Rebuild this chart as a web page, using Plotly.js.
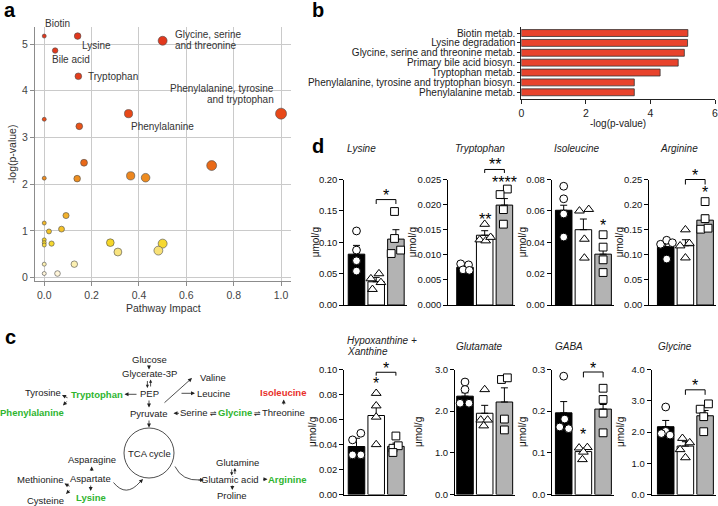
<!DOCTYPE html>
<html><head><meta charset="utf-8">
<script src="https://cdn.plot.ly/plotly-3.0.1.min.js"></script>
<style>html,body{margin:0;padding:0;background:#fff}#chart{width:718px;height:506px}</style>
</head><body><div id="chart"></div>
<script>
// ================= DATA =================
// Panel a: pathway impact vs -log(p)
const pathImpact = [0, 0.141, 0.046, 0.5, 0.144, 0.356, 1.0, 0, 0.148, 0.168, 0, 0.139, 0.365, 0.428, 0.707, 0.092, 0, 0.02, 0.073, 0, 0, 0, 0.031, 0.279, 0.311, 0.5, 0.482, 0, 0.127, 0, 0.056];
const pathLogP   = [5.17, 5.17, 4.86, 5.07, 4.31, 3.51, 3.51, 3.39, 3.24, 2.46, 2.13, 2.12, 2.18, 2.14, 2.40, 1.33, 1.17, 0.99, 1.04, 0.81, 0.75, 0.70, 0.73, 0.75, 0.55, 0.73, 0.58, 0.29, 0.29, 0.09, 0.09];
const pathLabels = ['Biotin','Lysine','Bile acid','Glycine, serine<br>and threonine','Tryptophan','Phenylalanine','Phenylalanine, tyrosine<br>and tryptophan'];
const aXTicks = [0, 0.2, 0.4, 0.6, 0.8, 1.0];
const aYTicks = [0, 1, 2, 3, 4, 5];

// Panel b: enriched pathways
const enrichNames = ['Biotin metab.','Lysine degradation','Glycine, serine and threonine metab.','Primary bile acid biosyn.','Tryptophan metab.','Phenylalanine, tyrosine and tryptophan biosyn.','Phenylalanine metab.'];
const enrichLogP  = [5.16, 5.15, 5.05, 4.86, 4.30, 3.50, 3.50];
const bXTicks = [0, 2, 4, 6];
const bXTickText = ['0', '2', '4', '6'];

// Panel d: metabolite levels (umol/g), groups: black / white / gray
const metaboliteNames = ['Lysine','Tryptophan','Isoleucine','Arginine','Hypoxanthine +<br>Xanthine','Glutamate','GABA','Glycine'];
const lysineMean = [0.081, 0.037, 0.105],   lysineSem = [0.014, 0.007, 0.015];
const lysineA = [0.118, 0.0875, 0.0705, 0.054], lysineB = [0.042, 0.050, 0.036, 0.025], lysineC = [0.149, 0.106, 0.082, 0.0875];
const tryptophanMean = [0.0075, 0.0139, 0.0199], tryptophanSem = [0.0003, 0.0009, 0.0013];
const tryptophanA = [0.0082, 0.0080, 0.0070, 0.0069], tryptophanB = [0.0161, 0.0130, 0.0128, 0.0135], tryptophanC = [0.0231, 0.0220, 0.0190, 0.0161];
const isoleucineMean = [0.0604, 0.048, 0.0324], isoleucineSem = [0.0032, 0.0068, 0.0028];
const isoleucineA = [0.0757, 0.0677, 0.058, 0.0433], isoleucineB = [0.060, 0.061, 0.042, 0.030], isoleucineC = [0.0448, 0.0369, 0.0288, 0.0207];
const arginineMean = [0.116, 0.118, 0.169], arginineSem = [0.006, 0.012, 0.010];
const arginineA = [0.121, 0.129, 0.124, 0.0915], arginineB = [0.150, 0.118, 0.123, 0.094], arginineC = [0.206, 0.172, 0.151, 0.153];
const hypoxMean = [0.0384, 0.0632, 0.0385], hypoxSem = [0.0066, 0.0079, 0.0026];
const hypoxA = [0.0437, 0.049, 0.0317, 0.0317], hypoxB = [0.081, 0.071, 0.062, 0.040], hypoxC = [0.0468, 0.037, 0.039, 0.0336];
const glutamateMean = [2.36, 1.95, 2.22], glutamateSem = [0.08, 0.19, 0.34];
const glutamateA = [2.70, 2.52, 2.19, 2.19], glutamateB = [2.52, 1.79, 1.79, 1.65], glutamateC = [2.76, 2.80, 1.81, 1.55];
const gabaMean = [0.196, 0.103, 0.205], gabaSem = [0.027, 0.008, 0.011];
const gabaA = [0.284, 0.181, 0.162, 0.158], gabaB = [0.112, 0.113, 0.102, 0.084], gabaC = [0.255, 0.228, 0.195, 0.148];
const glycineMean = [2.17, 1.55, 2.52], glycineSem = [0.20, 0.14, 0.17];
const glycineA = [2.80, 2.02, 1.95, 1.90], glycineB = [1.80, 1.66, 1.44, 1.18], glycineC = [2.90, 2.73, 2.49, 2.01];

const dMeans = [lysineMean, tryptophanMean, isoleucineMean, arginineMean, hypoxMean, glutamateMean, gabaMean, glycineMean];
const dSems  = [lysineSem, tryptophanSem, isoleucineSem, arginineSem, hypoxSem, glutamateSem, gabaSem, glycineSem];
const dPtsA  = [lysineA, tryptophanA, isoleucineA, arginineA, hypoxA, glutamateA, gabaA, glycineA];
const dPtsB  = [lysineB, tryptophanB, isoleucineB, arginineB, hypoxB, glutamateB, gabaB, glycineB];
const dPtsC  = [lysineC, tryptophanC, isoleucineC, arginineC, hypoxC, glutamateC, gabaC, glycineC];
const dYMax  = [0.20, 0.025, 0.08, 0.25, 0.10, 3.0, 0.3, 4.0];
const dYStep = [0.05, 0.005, 0.02, 0.05, 0.02, 1.0, 0.1, 1.0];
const dYFmt  = ['.2f', '.3f', '.2f', '.2f', '.2f', '.1f', '.1f', '.1f'];

// ================= STYLE / LAYOUT CONSTANTS =================
// horizontal spread of the dots (jitter), in bar-width units
const jitA = [[0,0,0,0],[-0.22,0.18,-0.1,0.22],[0,0,0,0],[-0.26,0.05,0.34,0.05],[-0.2,0.22,-0.2,0.22],[0,0,-0.25,0.2],[0,0.05,-0.2,0.25],[0,0,-0.22,0.22]];
const jitB = [[-0.27,0.14,0.24,-0.19],[0,-0.25,0.05,0.3],[-0.2,0.27,0.05,0.05],[0,-0.27,0.2,0],[0,0,0,0],[0,-0.2,0.15,-0.05],[-0.22,0.2,0,-0.05],[-0.15,0.22,-0.27,0]];
const jitC = [[-0.07,-0.07,-0.24,0.24],[0.15,-0.22,-0.05,-0.05],[0,0,0,0],[0,0,-0.22,0.15],[0,-0.15,0.12,-0.15],[-0.15,0.15,0,0],[0,0,0,0],[0.17,-0.25,-0.07,-0.07]];

// subplot geometry (pixels)
const dGeo = [
  {axX:344.3, c0:356.5, top:179.5, bot:305, tx:345, ty:148, ylx:315},
  {axX:448.3, c0:465.0, top:179.5, bot:305, tx:453, ty:148, ylx:412},
  {axX:551.7, c0:563.7, top:179.5, bot:305, tx:552, ty:148, ylx:522},
  {axX:649.3, c0:665.7, top:179.5, bot:305, tx:658, ty:148, ylx:619},
  {axX:344.3, c0:356.5, top:369.5, bot:494.5, tx:345, ty:340, ylx:312},
  {axX:455.0, c0:465.0, top:369.5, bot:494.5, tx:454, ty:346, ylx:418},
  {axX:552.3, c0:563.7, top:369.5, bot:494.5, tx:553, ty:346, ylx:522},
  {axX:651.7, c0:665.7, top:369.5, bot:494.5, tx:656, ty:346, ylx:620}
];
const U = 19.7;           // px per category
const RIGHT = 2.55;       // right end of category axis

// significance marks
const brackets = [
  {p:0, from:1, to:2, y:0.168, drop:0.007, label:'*', ly:0.180},
  {p:1, from:1, to:2, y:0.0270, drop:0.0007, label:'**', ly:0.0285},
  {p:3, from:1, to:2, y:0.250, drop:0.010, label:'*', ly:0.264},
  {p:4, from:1, to:2, y:0.0978, drop:0.0027, label:'*', ly:0.1036},
  {p:6, from:1, to:2, y:0.294, drop:0.013, label:'*', ly:0.309},
  {p:7, from:1, to:2, y:3.35, drop:0.16, label:'*', ly:3.57}
];
const barStars = [
  {p:1, bar:1, y:0.0177, label:'**'},
  {p:1, bar:2, y:0.0250, label:'****'},
  {p:2, bar:2, y:0.0523, label:'*'},
  {p:3, bar:2, y:0.230, label:'*'},
  {p:4, bar:1, y:0.0913, label:'*'},
  {p:6, bar:1, y:0.151, label:'*'}
];

// ================= BUILD =================
const W = 718, H = 506;
const PX = x => x / W;
const PY = y => 1 - y / H;
const FONT = 'Liberation Sans, Arial, Helvetica, sans-serif';
const traces = [], annotations = [], shapes = [];

function txt(s, x, y, opt) {
  const o = Object.assign({text:s, x:PX(x), y:PY(y), xref:'paper', yref:'paper', showarrow:false,
    xanchor:'center', yanchor:'middle', font:{family:FONT, size:10, color:'#222'}}, opt || {});
  annotations.push(o);
}
function arrow(tx, ty, hx, hy, opt) {
  annotations.push(Object.assign({x:PX(hx), y:PY(hy), xref:'paper', yref:'paper', ax:tx-hx, ay:ty-hy,
    text:'', showarrow:true, arrowhead:2, arrowsize:1.0, arrowwidth:0.8, arrowcolor:'#222', standoff:0, startstandoff:0}, opt || {}));
}
function biArrowV(x, y1, y2) {   // down arrow on the left, up arrow on the right
  arrow(x - 1.6, y1, x - 1.6, y2, {arrowsize:0.8});
  arrow(x + 1.6, y2, x + 1.6, y1, {arrowsize:0.8});
}

const layout = {
  width:W, height:H, margin:{l:0,r:0,t:0,b:0}, paper_bgcolor:'#fff', plot_bgcolor:'rgba(0,0,0,0)',
  showlegend:false, font:{family:FONT, size:10, color:'#222'}, annotations, shapes
};

// ---------- Panel a ----------
const aScale = [[0,'#fffbee'],[0.02,'#fff4d6'],[0.06,'#fcefae'],[0.11,'#f8e27a'],[0.145,'#f6d625'],[0.19,'#f4c428'],
  [0.25,'#f2b22c'],[0.40,'#ef9422'],[0.46,'#e96a18'],[0.62,'#ea5418'],[0.68,'#e84718'],[0.83,'#e43e1c'],[1,'#e2371d']];
traces.push({type:'scatter', mode:'markers', x:pathImpact, y:pathLogP, xaxis:'x', yaxis:'y', cliponaxis:false, hoverinfo:'skip',
  marker:{size:pathImpact.map(v => 4 + 7*Math.sqrt(v)), color:pathLogP, cmin:0, cmax:5.2, colorscale:aScale, showscale:false,
    line:{color:'#4a4a4a', width:0.6}, opacity:1}});
const axA = {showgrid:true, gridcolor:'#cacaca', gridwidth:1, showline:true, linecolor:'#8c8c8c', linewidth:1,
  ticks:'outside', ticklen:4, tickcolor:'#8c8c8c', tickfont:{family:FONT, size:10.5, color:'#444'}, zeroline:false};
layout.xaxis = Object.assign({}, axA, {domain:[PX(35), PX(291)], range:[-0.039, 1.042], anchor:'y', tickvals:aXTicks, tickformat:'.1f'});
layout.yaxis = Object.assign({}, axA, {domain:[PY(281), PY(27)], range:[-0.07, 5.364], anchor:'x', tickvals:aYTicks});
const lblA = {font:{family:FONT, size:10, color:'#333'}, xanchor:'left'};
txt(pathLabels[0], 43, 24, lblA);
txt(pathLabels[1], 80, 45.7, lblA);
txt(pathLabels[2], 50, 60, lblA);
{ const l = pathLabels[3].split('<br>'); txt(l[0], 173.3, 34, lblA); txt(l[1], 173.3, 45.7, lblA); }
txt(pathLabels[4], 86, 76, lblA);
txt(pathLabels[5], 129, 126, lblA);
{ const l = pathLabels[6].split('<br>'); txt(l[0], 276, 88.3, Object.assign({}, lblA, {xanchor:'right'})); txt(l[1], 276, 99.3, Object.assign({}, lblA, {xanchor:'right'})); }
txt('Pathway Impact', 163, 307.5, {font:{family:FONT, size:10.5, color:'#333'}});
txt('-log(p-value)', 11.5, 154, {textangle:-90, font:{family:FONT, size:10.5, color:'#333'}});

// ---------- Panel b ----------
traces.push({type:'bar', orientation:'h', x:enrichLogP, y:enrichNames, xaxis:'x2', yaxis:'y2', width:0.7, hoverinfo:'skip',
  marker:{color:'#e8432c', line:{color:'#333', width:0.8}}});
layout.xaxis2 = {domain:[PX(521.3), PX(715)], range:[0, 6], anchor:'y2', tickmode:'array', tickvals:bXTicks, ticktext:bXTickText,
  showline:true, linecolor:'#222', linewidth:1,
  ticks:'outside', ticklen:4, tickcolor:'#222', tickfont:{family:FONT, size:10.5, color:'#222'}, ticklabeloverflow:'allow',
  showgrid:false, zeroline:false};
layout.yaxis2 = {domain:[PY(99.3), PY(27)], type:'category', categoryorder:'array', categoryarray:enrichNames, range:[6.71, -0.61],
  tickmode:'array', tickvals:enrichNames, ticktext:enrichNames,
  anchor:'x2', showline:true, linecolor:'#222', linewidth:1, ticks:'outside', ticklen:3, tickcolor:'#222',
  tickfont:{family:FONT, size:10, color:'#222'}, showgrid:false, zeroline:false};
txt('-log(p-value)', 617.5, 123, {font:{family:FONT, size:10, color:'#222'}});

// ---------- Panel c (pathway diagram) ----------
const cf = {family:FONT, size:9.5, color:'#222'};
const green = '#2fb52f', red = '#e8302a';
const gB = {font:{family:FONT, size:9.5, color:green}};
txt('Glucose', 149, 359, {font:cf});
txt('Glycerate-3P', 149, 373.3, {font:cf});
biArrowV(149, 379.5, 388);
txt('PEP', 149, 393.3, {font:cf});
txt('Pyruvate', 149, 413.3, {font:cf});
txt('TCA cycle', 149, 453.3, {font:cf});
txt('Valine', 213.3, 377.3, {font:cf});
txt('Leucine', 213.3, 393.3, {font:cf});
txt('<b>Tryptophan</b>', 97.3, 394.3, gB);
txt('Tyrosine', 42.7, 392, {font:cf});
txt('<b>Phenylalanine</b>', 31.9, 412.7, gB);
txt('Serine', 193.3, 412.7, {font:cf});
txt('⇌', 213.6, 413.3, {font:{family:'DejaVu Sans', size:8, color:'#222'}});
txt('<b>Glycine</b>', 235, 412.7, gB);
txt('⇌', 257.3, 413.3, {font:{family:'DejaVu Sans', size:8, color:'#222'}});
txt('Threonine', 283.3, 412.7, {font:cf});
txt('<b>Isoleucine</b>', 282.7, 392.7, {font:{family:FONT, size:9.5, color:red}});
txt('Glutamine', 237.3, 462.7, {font:cf});
biArrowV(233.3, 468, 475.5);
txt('Glutamic acid', 230, 479.3, {font:cf});
txt('<b>Arginine</b>', 287.7, 479.3, gB);
txt('Proline', 232.3, 495, {font:cf});
txt('Asparagine', 91.7, 459.3, {font:cf});
txt('Aspartate', 90.7, 478.3, {font:cf});
txt('<b>Lysine</b>', 91, 497.3, gB);
txt('Methionine', 40, 479.3, {font:cf});
txt('Cysteine', 45.7, 500, {font:cf});
arrow(149, 364, 149, 369.5);
arrow(149, 399, 149, 407.5);
arrow(149, 419, 149, 427.5);
arrow(163, 404, 192, 378);
arrow(180, 393.3, 195, 393.3);
arrow(138, 394.3, 124.5, 394.3);
arrow(69, 398.5, 62, 395);
arrow(68, 400, 63, 405.5);
arrow(180.5, 413.3, 173.5, 413.3);
arrow(283.7, 406, 283.7, 399.5);
arrow(261.5, 479.3, 267.5, 479.3);
arrow(232.3, 484, 232.3, 490);
arrow(91.7, 472.5, 91.7, 466.5);
arrow(90.7, 484, 90.7, 491);
arrow(71, 487, 64.5, 483.5);
arrow(71, 489, 66, 494);
shapes.push({type:'circle', xref:'paper', yref:'paper', x0:PX(124), x1:PX(174), y0:PY(478), y1:PY(428), line:{color:'#222', width:0.8}});
const qpath = (a, c, b) => `M ${PX(a[0])} ${PY(a[1])} Q ${PX(c[0])} ${PY(c[1])} ${PX(b[0])} ${PY(b[1])}`;
shapes.push({type:'path', xref:'paper', yref:'paper', path:qpath([175, 466.5], [182, 481], [200, 480]), line:{color:'#222', width:0.8}});
arrow(197, 480.1, 204, 480);
shapes.push({type:'path', xref:'paper', yref:'paper', path:qpath([113.5, 482.5], [126, 498], [140, 482]), line:{color:'#222', width:0.8}});
arrow(139, 483.2, 143, 479);

// ---------- Panel d ----------
const symbols = ['circle', 'triangle-up', 'square'];
const barColors = ['#000000', '#ffffff', '#b3b3b3'];
const bigStar = {family:FONT, size:16, color:'#000'};
dMeans.forEach((means, p) => {
  const g = dGeo[p], n = p + 3;
  const xa = 'x' + n, ya = 'y' + n;
  const left = -(g.c0 - g.axX) / U;
  const rightPx = g.axX + (RIGHT - left) * U;
  const ymax = dYMax[p], step = dYStep[p];
  const tv = Array.from({length: Math.round(ymax/step) + 1}, (_, k) => +(k*step).toFixed(4));
  layout['xaxis' + n] = {domain:[PX(g.axX), PX(rightPx)], range:[left, RIGHT], anchor:ya, showline:true, linecolor:'#000', linewidth:1,
    showticklabels:false, ticks:'', showgrid:false, zeroline:false, fixedrange:true};
  layout['yaxis' + n] = {domain:[PY(g.bot), PY(g.top)], range:[0, ymax], anchor:xa, showline:true, linecolor:'#000', linewidth:1,
    ticks:'outside', ticklen:4, tickwidth:1, tickcolor:'#000', tickvals:tv, tickformat:dYFmt[p],
    tickfont:{family:FONT, size:9.5, color:'#111'}, showgrid:false, zeroline:false, fixedrange:true};
  traces.push({type:'bar', x:[0, 1, 2], y:means, xaxis:xa, yaxis:ya, width:0.84, hoverinfo:'skip',
    marker:{color:barColors, line:{color:'#000', width:1}},
    error_y:{type:'data', array:dSems[p], arrayminus:[0, 0, 0], symmetric:false, color:'#000', thickness:1, width:3.5}});
  [dPtsA[p], dPtsB[p], dPtsC[p]].forEach((pts, gi) => {
    const jit = [jitA, jitB, jitC][gi][p];
    traces.push({type:'scatter', mode:'markers', x:pts.map((v, k) => gi + jit[k]), y:pts, xaxis:xa, yaxis:ya, cliponaxis:false, hoverinfo:'skip',
      marker:{symbol:symbols[gi], size:gi === 1 ? 8.5 : 7.8, color:'#fff', line:{color:'#000', width:1}}});
  });
  const tl = metaboliteNames[p].split('<br>');
  tl.forEach((s, k) => txt('<i>' + s + '</i>', g.tx, g.ty + k*11, {xanchor:'left', font:{family:FONT, size:10, color:'#222'}}));
  txt('μmol/g', g.ylx, (g.top + g.bot) / 2, {textangle:-90, font:{family:FONT, size:10, color:'#111'}});
});
const vy = (p, v) => { const g = dGeo[p]; return g.bot - v / dYMax[p] * (g.bot - g.top); };
const bx = (p, i) => dGeo[p].c0 + i * U;
brackets.forEach(b => {
  const x1 = bx(b.p, b.from), x2 = bx(b.p, b.to), yl = vy(b.p, b.y), yd = vy(b.p, b.y - b.drop);
  shapes.push({type:'path', xref:'paper', yref:'paper', line:{color:'#000', width:1},
    path:`M ${PX(x1)} ${PY(yd)} L ${PX(x1)} ${PY(yl)} L ${PX(x2)} ${PY(yl)} L ${PX(x2)} ${PY(yd)}`});
  txt(b.label, (x1 + x2) / 2, vy(b.p, b.ly) + 3, {font:bigStar});
});
barStars.forEach(s => txt(s.label, bx(s.p, s.bar), vy(s.p, s.y) + 3, {font:bigStar}));

// ---------- panel letters ----------
const letF = {family:FONT, size:20, color:'#000'};
txt('<b>a</b>', 10, 10, {font:letF});
txt('<b>b</b>', 318, 10, {font:letF});
txt('<b>c</b>', 10, 337, {font:letF});
txt('<b>d</b>', 318, 146, {font:letF});

Plotly.newPlot('chart', traces, layout, {staticPlot:true, displayModeBar:false});
</script>
</body></html>
